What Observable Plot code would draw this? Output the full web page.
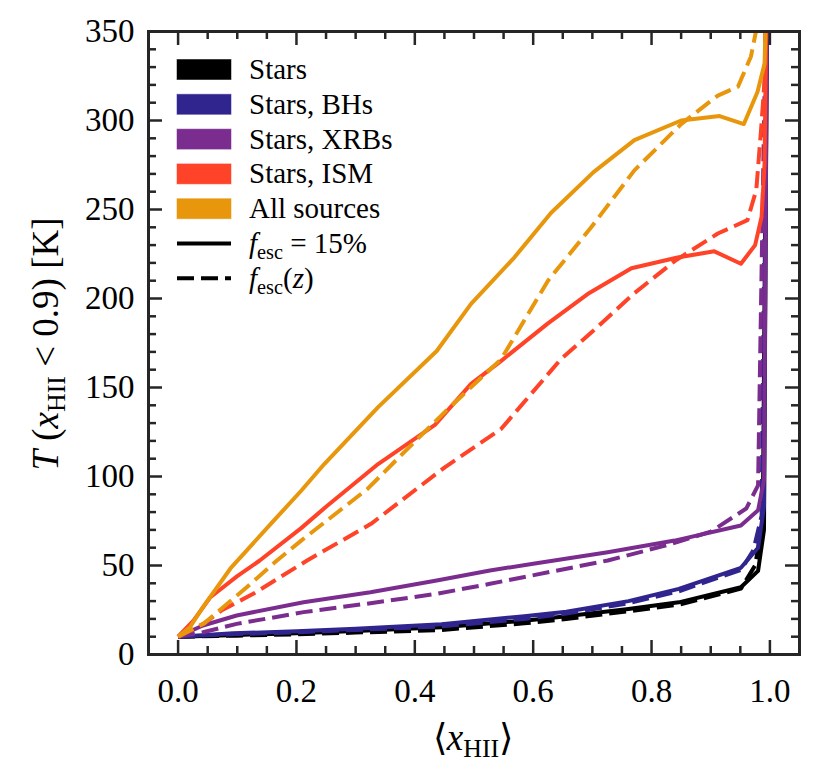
<!DOCTYPE html>
<html>
<head>
<meta charset="utf-8">
<script src="https://cdn.jsdelivr.net/npm/d3@7"></script>
<script src="https://cdn.jsdelivr.net/npm/@observablehq/plot@0.6"></script>
<style>
  body { margin: 0; background: #fff; }
  svg { display: block; }
  text { white-space: pre; }
</style>
</head>
<body>
<div id="chart"></div>
<script>
// ---------- data ----------
const sources = ["Stars", "Stars, BHs", "Stars, XRBs", "Stars, ISM", "All sources"];
const colors  = ["#000000", "#30258f", "#7b2d8f", "#ff4328", "#e8960b"];
const models  = ["fesc15", "fescz"];

// [<x_HII>, T] pairs, fesc = 15%
const starsFixed = [[0,10],[0.1,11],[0.2,12],[0.3,13.2],[0.445,15.3],[0.585,19],[0.656,21.5],[0.761,25.5],[0.846,29.3],[0.951,37.8],[0.98,47],[0.99,70],[0.996,420]];
const bhsFixed   = [[0,10],[0.093,11.9],[0.2,13],[0.3,14.5],[0.445,17],[0.585,21.5],[0.656,24],[0.761,30],[0.846,36.9],[0.951,48.7],[0.98,60],[0.99,83],[0.996,420]];
const xrbsFixed  = [[0,10],[0.042,16.3],[0.099,21.9],[0.212,29.4],[0.325,35],[0.437,41.6],[0.527,47.2],[0.6,51],[0.726,57.5],[0.839,64],[0.951,72.5],[0.98,81],[0.99,98],[0.996,420]];
const ismFixed   = [[0,10],[0.026,19],[0.054,32],[0.1,44],[0.138,52.8],[0.208,71],[0.25,83],[0.338,107],[0.434,129],[0.495,152],[0.546,165],[0.625,186],[0.692,202.5],[0.766,217],[0.844,223],[0.906,226.5],[0.951,219.5],[0.975,230],[0.986,246],[0.991,276],[0.996,420]];
const allFixed   = [[0,10],[0.02,15.3],[0.042,26.6],[0.09,49],[0.157,73.5],[0.208,92],[0.247,107],[0.338,139],[0.437,170.5],[0.495,197],[0.568,223],[0.63,248],[0.702,271],[0.771,289],[0.85,300],[0.915,302.5],[0.956,298],[0.979,316],[0.991,332],[0.998,420]];

// [<x_HII>, T] pairs, fesc(z)
const starsVar = [[0,10],[0.1,10.6],[0.2,11.3],[0.3,12.3],[0.445,13.8],[0.585,17.5],[0.656,20],[0.761,24.3],[0.846,28],[0.951,37],[0.975,50],[0.988,75],[0.996,420]];
const bhsVar   = [[0,10],[0.1,11.5],[0.2,12.5],[0.3,13.8],[0.445,15.8],[0.585,20],[0.656,23],[0.761,28.8],[0.846,35.5],[0.951,47.5],[0.972,58.5],[0.986,78],[0.996,420]];
const xrbsVar  = [[0,10],[0.042,12.5],[0.099,17.2],[0.212,23.8],[0.325,28.8],[0.437,34.1],[0.527,39.7],[0.726,52.8],[0.832,62],[0.9,69],[0.96,82],[0.98,95],[0.996,420]];
const ismVar   = [[0,10],[0.044,17.5],[0.073,24.7],[0.127,34.1],[0.218,52.8],[0.326,73.4],[0.45,105],[0.546,126.8],[0.647,166],[0.702,182],[0.771,203],[0.839,221],[0.912,236.5],[0.962,244],[0.977,261],[0.985,294.5],[0.991,322.6],[0.997,420]];
const allVar   = [[0,10],[0.044,17.5],[0.06,22],[0.116,37.8],[0.167,52.8],[0.208,64],[0.32,93],[0.377,112],[0.456,138],[0.546,166],[0.625,210],[0.698,240],[0.771,272],[0.85,298],[0.912,314],[0.946,319],[0.968,336],[0.977,351],[0.99,500]];

const fixedSeries = [starsFixed, bhsFixed, xrbsFixed, ismFixed, allFixed];
const varSeries   = [starsVar, bhsVar, xrbsVar, ismVar, allVar];

// ticks
const xMajor = [0, 0.2, 0.4, 0.6, 0.8, 1.0];
const xMinor = [0.05,0.1,0.15,0.25,0.3,0.35,0.45,0.5,0.55,0.65,0.7,0.75,0.85,0.9,0.95];
const yMajorLabels = [0, 50, 100, 150, 200, 250, 300, 350];
const yMajor = [50, 100, 150, 200, 250, 300];
const yMinor = [10,20,30,40,60,70,80,90,110,120,130,140,160,170,180,190,210,220,230,240,260,270,280,290,310,320,330,340];

// ---------- table ----------
const rows = [];
sources.forEach((s, i) => {
  [fixedSeries[i], varSeries[i]].forEach((arr, j) => {
    arr.forEach(([x, T]) => rows.push({source: s, model: models[j], x, T}));
  });
});

// ---------- layout ----------
const W = 830, H = 779, mL = 148, mR = 31, mT = 31, mB = 125;
const innerW = W - mL - mR, innerH = H - mT - mB;
const ink = "#262626";
const font = "'Liberation Serif', 'Times New Roman', serif";
const majorLen = 14, minorLen = 8;
const dash = "17,7";

const lineMarks = [];
sources.forEach((s, i) => {
  models.forEach((m, j) => {
    lineMarks.push(Plot.line(rows.filter(r => r.source === s && r.model === m), {
      x: "x", y: "T", stroke: colors[i], strokeWidth: 4,
      strokeDasharray: j === 1 ? dash : null,
      strokeLinejoin: "round", strokeLinecap: "butt", clip: true
    }));
  });
});

const plot = Plot.plot({
  width: W, height: H,
  marginLeft: mL, marginRight: mR, marginTop: mT, marginBottom: mB,
  x: {domain: [-0.05, 1.05]},
  y: {domain: [0, 350]},
  style: {fontFamily: font, background: "#fff", color: "#000"},
  marks: [
    ...lineMarks,
    // bottom ticks
    Plot.tickX(xMajor, {x: d => d, insetTop: innerH - majorLen, stroke: ink, strokeWidth: 2.5}),
    Plot.tickX(xMinor, {x: d => d, insetTop: innerH - minorLen, stroke: ink, strokeWidth: 2.5}),
    // top ticks
    Plot.tickX(xMajor, {x: d => d, insetBottom: innerH - majorLen, stroke: ink, strokeWidth: 2.5}),
    Plot.tickX(xMinor, {x: d => d, insetBottom: innerH - minorLen, stroke: ink, strokeWidth: 2.5}),
    // left ticks
    Plot.tickY(yMajor, {y: d => d, insetRight: innerW - majorLen, stroke: ink, strokeWidth: 2.5}),
    Plot.tickY(yMinor, {y: d => d, insetRight: innerW - minorLen, stroke: ink, strokeWidth: 2.5}),
    // right ticks
    Plot.tickY(yMajor, {y: d => d, insetLeft: innerW - majorLen, stroke: ink, strokeWidth: 2.5}),
    Plot.tickY(yMinor, {y: d => d, insetLeft: innerW - minorLen, stroke: ink, strokeWidth: 2.5}),
    Plot.frame({stroke: ink, strokeWidth: 3}),
    Plot.axisX(xMajor, {anchor: "bottom", tickSize: 0, tickPadding: 24, fontSize: 33,
      tickFormat: d3.format(".1f"), label: null, fill: "#000"}),
    Plot.axisY(yMajorLabels, {anchor: "left", tickSize: 0, tickPadding: 14, fontSize: 33,
      label: null, fill: "#000"})
  ]
});

document.getElementById("chart").appendChild(plot);

// ---------- labels & legend (text with subscripts) ----------
const svg = d3.select(plot);

function mathText(g, parts, fs, anchor) {
  const t = g.append("text").attr("font-family", font).attr("font-size", fs)
    .attr("fill", "#000").attr("text-anchor", anchor || "start");
  let shifted = false;
  parts.forEach(p => {
    const ts = t.append("tspan").text(p.t);
    if (p.it) ts.attr("font-style", "italic");
    if (p.sub) {
      ts.attr("font-size", fs * 0.7).attr("dy", fs * 0.2);
      shifted = true;
    } else if (shifted) {
      ts.attr("dy", -fs * 0.2);
      shifted = false;
    }
  });
  return t;
}

// y label
const yl = svg.append("g").attr("transform", "translate(58,344) rotate(-90)");
mathText(yl, [{t: "T", it: true}, {t: " ("}, {t: "x", it: true}, {t: "HII", sub: true}, {t: " < 0.9) [K]"}], 37, "middle");

// x label
const xl = svg.append("g").attr("transform", "translate(473,750)");
mathText(xl, [{t: "\u27E8"}, {t: "x", it: true}, {t: "HII", sub: true}, {t: "\u27E9"}], 37, "middle");

// legend
const legendTop = 69.5, rowH = 34.8, patchX = 177, patchW = 54, patchH = 20, textX = 249, lfs = 29;
const lg = svg.append("g");
sources.forEach((s, i) => {
  const cy = legendTop + i * rowH;
  lg.append("rect").attr("x", patchX).attr("y", cy - patchH / 2).attr("width", patchW).attr("height", patchH)
    .attr("fill", colors[i]).attr("stroke", colors[i]).attr("stroke-opacity", 0.5).attr("stroke-width", 1);
  const g = lg.append("g").attr("transform", `translate(${textX},${cy + 9.5})`);
  mathText(g, [{t: s}], lfs);
});
const modelLabels = [
  [{t: "f", it: true}, {t: "esc", sub: true}, {t: " = 15%"}],
  [{t: "f", it: true}, {t: "esc", sub: true}, {t: "("}, {t: "z", it: true}, {t: ")"}]
];
modelLabels.forEach((parts, j) => {
  const cy = legendTop + (5 + j) * rowH;
  lg.append("line").attr("x1", patchX).attr("x2", patchX + patchW).attr("y1", cy).attr("y2", cy)
    .attr("stroke", "#000").attr("stroke-width", 4).attr("stroke-dasharray", j === 1 ? dash : null);
  const g = lg.append("g").attr("transform", `translate(${textX},${cy + 9.5})`);
  mathText(g, parts, lfs);
});
</script>
</body>
</html>
